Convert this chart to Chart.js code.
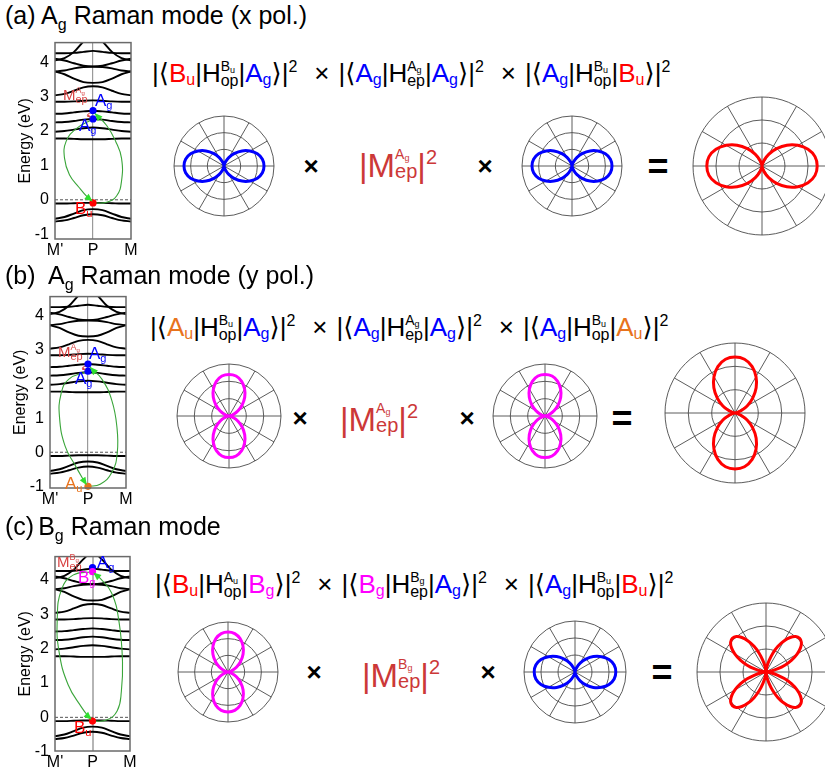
<!DOCTYPE html>
<html><head><meta charset="utf-8">
<script src="https://cdn.jsdelivr.net/npm/chart.js@4/dist/chart.umd.min.js"></script>
<style>
html,body{margin:0;padding:0;background:#fff;width:825px;height:774px;overflow:hidden;position:relative;font-family:"Liberation Sans",Arial,"DejaVu Sans",sans-serif;color:#000;}
canvas{position:absolute;}
.t{position:absolute;white-space:nowrap;}
.sb{line-height:0;}
.stk{display:inline-flex;flex-direction:column;align-items:flex-start;}
.tx{display:inline-block;margin-left:17px;margin-right:9px;}
</style></head><body>
<script>
// ---------------- data ----------------
const kPos = [-1,-0.75,-0.5,-0.25,0,0.25,0.5,0.75,1];
const kLabels = ["M'","P","M"];
const kTicks = [-1,0,1];
const energyTicks = [-1,0,1,2,3,4];

const band01 = [4.05,4.12,4.30,4.60,4.80,4.60,4.30,4.12,4.05];
const band02 = [4.26,4.26,4.27,4.30,4.33,4.30,4.27,4.26,4.26];
const band03 = [4.10,4.05,3.97,3.90,3.88,3.90,3.97,4.05,4.10];
const band04 = [3.73,3.76,3.82,3.86,3.87,3.86,3.82,3.76,3.73];
const band05 = [3.73,3.65,3.52,3.42,3.40,3.42,3.52,3.65,3.73];
const band06 = [3.04,3.08,3.17,3.27,3.30,3.27,3.17,3.08,3.04];
const band07 = [2.85,2.85,2.86,2.88,2.89,2.88,2.86,2.85,2.85];
const band08 = [2.50,2.51,2.54,2.57,2.59,2.57,2.54,2.51,2.50];
const band09 = [2.25,2.26,2.29,2.33,2.35,2.33,2.29,2.26,2.25];
const band10 = [1.98,2.00,2.04,2.08,2.10,2.08,2.04,2.00,1.98];
const band11 = [1.78,1.78,1.77,1.76,1.76,1.76,1.77,1.78,1.78];
const band12 = [-0.11,-0.11,-0.10,-0.09,-0.09,-0.09,-0.10,-0.11,-0.11];
const band13 = [-0.55,-0.50,-0.40,-0.30,-0.27,-0.30,-0.40,-0.50,-0.55];
const band14 = [-0.63,-0.60,-0.53,-0.45,-0.42,-0.45,-0.53,-0.60,-0.63];
const allBands = [band01,band02,band03,band04,band05,band06,band07,band08,band09,band10,band11,band12,band13,band14];

// state energies at P (eV)
const dotsA = [2.59, 2.35, -0.09];
const dotsB = [2.59, 2.38, -1.00];
const dotsC = [4.36, 4.24, -0.11];

// green transition paths (k, E)
const pathA1x = [0,-0.44,-0.71,-0.75,-0.62,-0.36,-0.14,-0.01];
const pathA1y = [2.35,2.07,1.69,1.21,0.73,0.35,0.07,-0.05];
const pathA2x = [0,0.36,0.62,0.75,0.75,0.60,0.36,0.04];
const pathA2y = [-0.09,-0.07,0.11,0.54,1.21,1.69,2.16,2.52];
const pathB1x = [0,-0.51,-0.71,-0.75,-0.60,-0.33,-0.11,-0.03];
const pathB1y = [2.38,2.14,1.71,1.03,0.17,-0.40,-0.83,-0.97];
const pathB2x = [0,0.32,0.63,0.77,0.76,0.63,0.37,0.05];
const pathB2y = [-1.00,-0.94,-0.59,-0.02,0.75,1.51,2.14,2.50];
const pathC1x = [0,-0.52,-0.83,-0.94,-0.89,-0.65,-0.29,-0.09,-0.02];
const pathC1y = [4.24,4.14,3.71,2.86,1.90,0.95,0.29,0.00,-0.07];
const pathC2x = [0,0.37,0.66,0.77,0.80,0.71,0.51,0.20,0.02];
const pathC2y = [-0.11,-0.08,0.19,0.76,1.62,2.76,3.62,4.05,4.22];
const mepArcX = [-0.04,-0.15,-0.06];
const mepArcYa = [2.55,2.46,2.39];
const mepArcYb = [2.55,2.47,2.41];

// polar intensities
const polarAngles10 = [0,10,20,30,40,50,60,70,80,90,100,110,120,130,140,150,160,170,180,190,200,210,220,230,240,250,260,270,280,290,300,310,320,330,340,350];
const polarAngles5 = [0,5,10,15,20,25,30,35,40,45,50,55,60,65,70,75,80,85,90,95,100,105,110,115,120,125,130,135,140,145,150,155,160,165,170,175,180,185,190,195,200,205,210,215,220,225,230,235,240,245,250,255,260,265,270,275,280,285,290,295,300,305,310,315,320,325,330,335,340,345,350,355];
const lobeHorizontal = [0,0.02,0.09,0.2,0.33,0.47,0.6,0.71,0.78,0.8,0.78,0.71,0.6,0.47,0.33,0.2,0.09,0.02,0,0.02,0.09,0.2,0.33,0.47,0.6,0.71,0.78,0.8,0.78,0.71,0.6,0.47,0.33,0.2,0.09,0.02];
const lobeVertical = [0.8,0.78,0.71,0.6,0.47,0.33,0.2,0.09,0.02,0,0.02,0.09,0.2,0.33,0.47,0.6,0.71,0.78,0.8,0.78,0.71,0.6,0.47,0.33,0.2,0.09,0.02,0,0.02,0.09,0.2,0.33,0.47,0.6,0.71,0.78];
const fourLeaf = [0,0.02,0.08,0.17,0.29,0.41,0.52,0.61,0.67,0.69,0.67,0.61,0.52,0.41,0.29,0.17,0.08,0.02,
                  0,0.02,0.08,0.17,0.29,0.41,0.52,0.61,0.67,0.69,0.67,0.61,0.52,0.41,0.29,0.17,0.08,0.02,
                  0,0.02,0.08,0.17,0.29,0.41,0.52,0.61,0.67,0.69,0.67,0.61,0.52,0.41,0.29,0.17,0.08,0.02,
                  0,0.02,0.08,0.17,0.29,0.41,0.52,0.61,0.67,0.69,0.67,0.61,0.52,0.41,0.29,0.17,0.08,0.02];
const gridRings = [0,0.333,0.667,1];

// ---------------- styling ----------------
const C = {Bu:'#ff0000', Ag:'#0000ff', Au:'#e8731c', Bg:'#ff00ff', Mep:'#cc3838', MepS:'#d84444'};
Chart.defaults.font.family = "'Liberation Sans', Arial, sans-serif";
Chart.defaults.color = '#000';

const framePlugin = {
  id:'frame',
  afterDraw(chart){
    const a = chart.chartArea, ctx = chart.ctx;
    ctx.save(); ctx.strokeStyle='#6a6a6a'; ctx.lineWidth=1.5;
    ctx.strokeRect(a.left, a.top, a.right-a.left, a.bottom-a.top); ctx.restore();
  }
};
const arrowPlugin = {
  id:'arrowheads',
  afterDatasetsDraw(chart){
    const ctx = chart.ctx;
    chart.data.datasets.forEach((ds,i)=>{
      if(!ds.arrowColor) return;
      const pts = chart.getDatasetMeta(i).data, n = pts.length;
      const a = pts[n-2], b = pts[n-1];
      let ax = a.x, ay = a.y;
      if (b.cp1x !== undefined && (Math.abs(b.cp1x-b.x)+Math.abs(b.cp1y-b.y))>0.5) { ax=b.cp1x; ay=b.cp1y; }
      const ang = Math.atan2(b.y-ay, b.x-ax), L = ds.arrowSize||8, W = L*0.42;
      ctx.save(); ctx.fillStyle = ds.arrowColor; ctx.beginPath();
      ctx.moveTo(b.x,b.y);
      ctx.lineTo(b.x-L*Math.cos(ang)+W*Math.sin(ang), b.y-L*Math.sin(ang)-W*Math.cos(ang));
      ctx.lineTo(b.x-L*Math.cos(ang)-W*Math.sin(ang), b.y-L*Math.sin(ang)+W*Math.cos(ang));
      ctx.closePath(); ctx.fill(); ctx.restore();
    });
  }
};

function toXY(xs, ys){ return xs.map((x,i)=>({x, y:ys[i]})); }

function bandChart(cfg){
  const {box, yMin, yMax, titlePad, pColor, pWidth, dots, dotColors, paths, arc} = cfg;
  const padTop = 12, padRight = 12, xH = 24;
  const cv = document.createElement('canvas');
  cv.width = box.right + padRight; cv.height = padTop + (box.bottom-box.top) + xH;
  cv.style.left = '0px'; cv.style.top = (box.top - padTop)+'px';
  document.body.appendChild(cv);
  const ds = [];
  ds.push({data: dots.map(e=>({x:0,y:e})), showLine:false, pointRadius:3.6, pointBackgroundColor:dotColors, pointBorderWidth:0, clip:false});
  paths.forEach(p=> ds.push({data: toXY(p[0],p[1]), showLine:true, borderColor:'#3aa53a', borderWidth:1.1, pointRadius:0, tension:0.45, arrowColor:'#2fe02f', arrowSize:8, clip:false}));
  if (arc) ds.push({data: toXY(arc[0],arc[1]), showLine:true, borderColor:C.MepS, borderWidth:1, pointRadius:0, tension:0.5, arrowColor:C.MepS, arrowSize:3.5});
  ds.push({data:[{x:-1,y:0},{x:1,y:0}], showLine:true, borderColor:'#555', borderWidth:1, borderDash:[3,2], pointRadius:0});
  allBands.forEach(b=> ds.push({data: kPos.map((k,i)=>({x:k,y:b[i]})), showLine:true, borderColor:'#000', borderWidth:1.9, pointRadius:0, cubicInterpolationMode:'monotone'}));
  new Chart(cv, {type:'scatter', data:{datasets:ds}, plugins:[framePlugin, arrowPlugin],
    options:{responsive:false, animation:false, layout:{padding:{top:padTop,right:padRight,left:0,bottom:0}},
      plugins:{legend:{display:false}, tooltip:{enabled:false}},
      scales:{
        x:{type:'linear', min:-1, max:1, afterBuildTicks:s=>{s.ticks=kTicks.map(v=>({value:v}));},
           afterFit:s=>{s.height=xH;},
           ticks:{callback:(v,i)=>kLabels[i], font:{size:16}, padding:2, maxRotation:0, autoSkip:false},
           grid:{drawTicks:false, color:c=> (c.tick && c.tick.value===0) ? pColor : 'rgba(0,0,0,0)', lineWidth:pWidth}, border:{display:false}},
        y:{type:'linear', min:yMin, max:yMax, afterBuildTicks:s=>{s.ticks=energyTicks.map(v=>({value:v}));},
           afterFit:s=>{s.width=box.left;},
           ticks:{font:{size:16}, padding:6},
           title:{display:true, text:'Energy (eV)', font:{size:16}, padding:{top:titlePad,bottom:0}},
           grid:{display:false, drawTicks:false}, border:{display:false}}
      }}});
}

function polar(cx, cy, R, labels, values, color, spokeEvery){
  const p = 4, W = 2*R + 2*p;
  const cv = document.createElement('canvas');
  cv.width = W; cv.height = W;
  cv.style.left = Math.round(cx-R-p)+'px'; cv.style.top = Math.round(cy-R-p)+'px';
  document.body.appendChild(cv);
  new Chart(cv, {type:'radar', data:{labels, datasets:[{data:values, borderColor:color, borderWidth:3, pointRadius:0, fill:false, backgroundColor:'rgba(0,0,0,0)', tension:0.25}]},
    options:{responsive:false, animation:false, layout:{padding:p}, plugins:{legend:{display:false}, tooltip:{enabled:false}},
      scales:{r:{min:0, max:1, ticks:{display:false}, afterBuildTicks:s=>{s.ticks=gridRings.map(v=>({value:v}));},
        grid:{circular:true, color:'#4a4a4a', lineWidth:0.9},
        angleLines:{display:true, lineWidth:0.9, color:c=> (c.index % spokeEvery===0) ? '#4a4a4a' : 'rgba(0,0,0,0)'},
        pointLabels:{display:false}}}}});
}

// ---------------- text helpers ----------------
function addText(x, base, size, html, extra){
  const d = document.createElement('div');
  d.className='t';
  d.style.left = x+'px';
  d.style.fontSize = size+'px';
  d.style.lineHeight = (2*size)+'px';
  d.style.top = (base - 1.3465*size)+'px';
  if (extra) d.style.cssText += extra;
  d.innerHTML = html;
  document.body.appendChild(d);
}
function sub(t,size,drop){ return `<span class="sb" style="font-size:${size}px;vertical-align:${-drop}px">${t}</span>`; }
function sup(t,size,rise){ return `<span class="sb" style="font-size:${size}px;vertical-align:${rise}px">${t}</span>`; }
function stack(up, dn, upS, dnS, raise, D){
  const L = D - 0.3465*(dnS-upS);
  return `<span class="stk" style="vertical-align:${raise}px"><span style="font-size:${upS}px;line-height:${L}px">${up}</span><span style="font-size:${dnS}px;line-height:${L}px">${dn}</span></span>`;
}
function state(n, subS, drop){ return `<span style="color:${C[n]}">${n[0]}${sub(n[1].toLowerCase(),subS,drop)}</span>`; }
function term(bra, h, hs, ket){
  return `|&#x27E8;${state(bra,16,3)}|H${stack(hs[0]+sub(hs[1].toLowerCase(),9,2), h, 14, 16, 10.5, 15)}|${state(ket,16,3)}&#x27E9;|${sup('2',16,10)}`;
}
function formula(x, base, t1, t2, t3){
  addText(x, base, 26, `${term(...t1)}<span class="tx">&#215;</span>${term(...t2)}<span class="tx">&#215;</span>${term(...t3)}`);
}
function bigM(x, base, irr){
  addText(x, base, 33, `|M${stack(irr[0]+sub(irr[1],9,2),'ep',14,20,18,20)}|${sup('2',20,13)}`, `color:${C.Mep}`);
}
function smallM(x, base, irr){
  addText(x, base, 15, `M${stack(irr[0]+sub(irr[1],6,1.5),'ep',9,11,7,10)}`, `color:${C.MepS}`);
}
function lab(x, base, n){ addText(x, base, 17, state(n,11,3)); }
function times(x, cy){ addText(x, cy+9, 26, '&#215;', 'font-weight:bold;transform:translateX(-50%)'); }
function equals(x, cy){ addText(x, cy+13, 36, '=', 'font-weight:bold;transform:translateX(-50%)'); }

// ---------------- row (a) ----------------
addText(5, 24, 25, `(a) A${sub('g',16,6)} Raman mode (x pol.)`);
bandChart({box:{left:55,right:131,top:39,bottom:239}, yMin:-1.14, yMax:4.57, titlePad:16, pColor:'#9a9a9a', pWidth:1.2,
  dots:dotsA, dotColors:[C.Ag,C.Ag,C.Bu], paths:[[pathA1x,pathA1y],[pathA2x,pathA2y]], arc:[mepArcX,mepArcYa]});
smallM(63,100,'Ag'); lab(95,107,'Ag'); lab(79,132,'Ag'); lab(75,215,'Bu');
formula(152, 82, ['Bu','op','Bu','Ag'], ['Ag','ep','Ag','Ag'], ['Ag','op','Bu','Bu']);
polar(224, 166, 50, polarAngles10, lobeHorizontal, C.Ag, 3);
times(311,166); bigM(359,177,'Ag'); times(485,166);
polar(572, 166, 50, polarAngles10, lobeHorizontal, C.Ag, 3);
equals(658,166);
polar(762, 166, 69, polarAngles10, lobeHorizontal, C.Bu, 3);

// ---------------- row (b) ----------------
addText(5, 284, 25, `(b)&nbsp; A${sub('g',16,6)} Raman mode (y pol.)`);
bandChart({box:{left:50,right:126,top:293,bottom:488}, yMin:-1.05, yMax:4.57, titlePad:10.5, pColor:'#9a9a9a', pWidth:1.2,
  dots:dotsB, dotColors:[C.Ag,C.Ag,C.Au], paths:[[pathB1x,pathB1y],[pathB2x,pathB2y]], arc:[mepArcX,mepArcYb]});
smallM(58,357,'Ag'); lab(89,360,'Ag'); lab(75,385,'Ag'); lab(65,490,'Au');
formula(150, 336, ['Au','op','Bu','Ag'], ['Ag','ep','Ag','Ag'], ['Ag','op','Bu','Au']);
polar(229, 416, 52, polarAngles10, lobeVertical, C.Bg, 3);
times(300,418); bigM(340,431,'Ag'); times(467,418);
polar(545, 416, 52, polarAngles10, lobeVertical, C.Bg, 3);
equals(622,418);
polar(735, 413, 70, polarAngles10, lobeVertical, C.Bu, 3);

// ---------------- row (c) ----------------
addText(5, 535, 25, `(c)<span style="margin-left:4px"></span>B${sub('g',16,6)} Raman mode`);
bandChart({box:{left:55,right:130,top:553,bottom:751}, yMin:-0.98, yMax:4.68, titlePad:16, pColor:'#b5b5b5', pWidth:2,
  dots:dotsC, dotColors:[C.Ag,C.Bg,C.Bu], paths:[[pathC1x,pathC1y],[pathC2x,pathC2y]], arc:null});
smallM(57,567,'Bg'); lab(97,569,'Ag'); lab(78,584,'Bg'); lab(74,734,'Bu');
formula(155, 593, ['Bu','op','Au','Bg'], ['Bg','ep','Bg','Ag'], ['Ag','op','Bu','Bu']);
polar(228, 672, 50, polarAngles10, lobeVertical, C.Bg, 3);
times(314,672); bigM(362,687,'Bg'); times(488,672);
polar(575, 672, 51, polarAngles10, lobeHorizontal, C.Ag, 3);
equals(662,672);
polar(766, 672, 69, polarAngles5, fourLeaf, C.Bu, 6);
</script>
</body></html>
